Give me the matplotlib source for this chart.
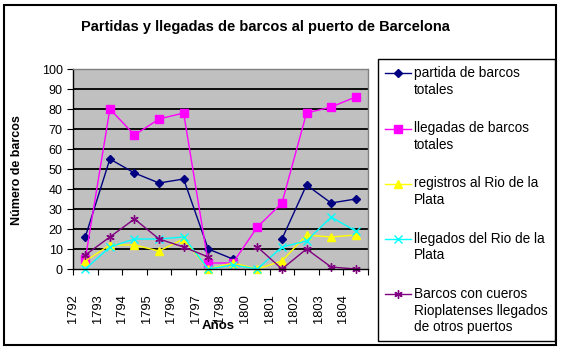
import matplotlib.pyplot as plt
import numpy as np
from matplotlib.patches import Rectangle
from matplotlib.legend_handler import HandlerLine2D

plt.rcParams['font.family'] = ['Liberation Sans', 'DejaVu Sans']

years = ['1792', '1793', '1794', '1795', '1796', '1797',
         '1798', '1800', '1801', '1802', '1803', '1804']
nan = np.nan
partidas = [16, 55, 48, 43, 45, 10, 5, nan, 15, 42, 33, 35]
llegadas = [5, 80, 67, 75, 78, 3, 3, 21, 33, 78, 81, 86]
registros = [4, 12, 12, 9, 15, 0, 3, 0, 4, 17, 16, 17]
llegados_rp = [0, 11, 15, 15, 16, 0, 2, 0, 11, 14, 26, 19]
cueros = [7, 16, 25, 15, 11, 6, nan, 11, 0, 10, 1, 0]

W, H = 561, 351
LEG_FS = 9.8
LEG_LS = 1.25


class TopHandler(HandlerLine2D):
    """Put the legend key level with the first line of a multi-line label."""

    def __init__(self, nlines, **kw):
        super().__init__(**kw)
        self.shift = (nlines - 1) / 2 * LEG_FS * LEG_LS

    def create_artists(self, legend, orig_handle, xdescent, ydescent,
                       width, height, fontsize, trans):
        arts = super().create_artists(legend, orig_handle, xdescent, ydescent,
                                      width, height, fontsize, trans)
        for a in arts:
            a.set_ydata(np.asarray(a.get_ydata()) + self.shift)
        return arts


fig = plt.figure(figsize=(W / 100, H / 100), dpi=100)
fig.patch.set_facecolor('white')

# outer chart border
fig.patches.append(Rectangle((4 / W, 1 - 345 / H), 552 / W, 340 / H,
                             transform=fig.transFigure, fill=False,
                             edgecolor='black', lw=1.5))

ax = fig.add_axes([73 / W, 1 - 269 / H, (368 - 73) / W, (269 - 69) / H])
ax.set_facecolor('#C0C0C0')

x = np.arange(len(years)) + 0.5
series = [
    (partidas, 'partida de barcos\ntotales', '#000080', 'D', 4),
    (llegadas, 'llegadas de barcos\ntotales', '#FF00FF', 's', 5.5),
    (registros, 'registros al Rio de la\nPlata', '#FFFF00', '^', 6),
    (llegados_rp, 'llegados del Rio de la\nPlata', '#00FFFF', 'x', 5.5),
    (cueros, 'Barcos con cueros\nRioplatenses llegados\nde otros puertos',
     '#800080', (6, 2, 0), 6),
]
handles = []
hmap = {}
for vals, label, color, marker, ms in series:
    h, = ax.plot(x, vals, color=color, marker=marker, markersize=ms,
                 markeredgecolor=color, markerfacecolor=color, lw=1,
                 label=label, clip_on=False)
    handles.append(h)
    hmap[h] = TopHandler(label.count('\n') + 1)

ax.set_xlim(0, len(years))
ax.set_ylim(0, 100)
ax.set_yticks(range(0, 101, 10))
for yv in range(10, 100, 10):
    ax.axhline(yv, color='black', lw=1.3, zorder=0.5)
ax.set_xticks(range(len(years) + 1))
ax.set_xticklabels(years + [''], rotation=90, fontsize=9.3)
ax.tick_params(axis='y', labelsize=9, length=4, direction='out')
ax.tick_params(axis='x', length=4, direction='out', pad=14)
for s in ['top', 'right']:
    ax.spines[s].set_color('#808080')
    ax.spines[s].set_linewidth(1)
ax.spines['top'].set_linestyle((0, (2, 1)))
for s in ['left', 'bottom']:
    ax.spines[s].set_color('black')
    ax.spines[s].set_linewidth(1)

fig.text(265 / W, 1 - 27 / H,
         'Partidas y llegadas de barcos al puerto de Barcelona',
         ha='center', va='center', fontsize=10.5, fontweight='bold')
fig.text(218 / W, 1 - 326 / H, 'Años', ha='center', va='center',
         fontsize=9.5, fontweight='bold')
fig.text(17 / W, 1 - 170 / H, 'Número de barcos', ha='center', va='center',
         rotation=90, fontsize=9, fontweight='bold')

leg = fig.legend(handles=handles, handler_map=hmap, loc='upper left',
                 bbox_to_anchor=(378 / W, 1 - 59 / H),
                 bbox_transform=fig.transFigure, fontsize=LEG_FS,
                 frameon=True, fancybox=False, edgecolor='black',
                 framealpha=1, labelspacing=1.8, handlelength=1.95,
                 handletextpad=0.2, borderpad=0.5, borderaxespad=0)
leg.get_frame().set_linewidth(1)
for t in leg.get_texts():
    t.set_linespacing(LEG_LS)

fig.savefig('out.png', dpi=100)
